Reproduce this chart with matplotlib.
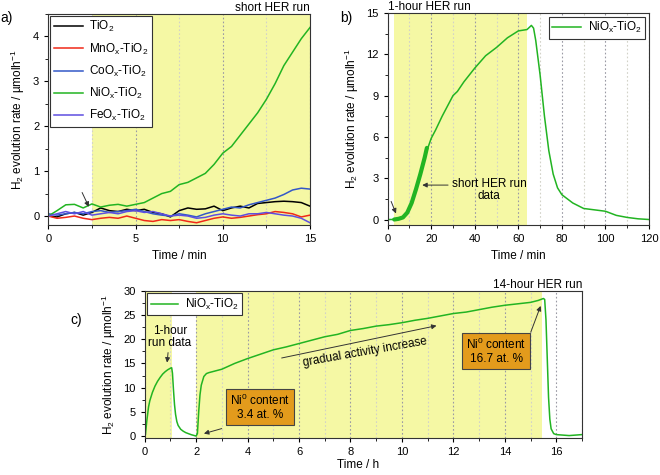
import numpy as np
import matplotlib.pyplot as plt
from matplotlib.ticker import MultipleLocator

plt.rcParams["font.family"] = ["Liberation Sans", "DejaVu Sans"]
plt.rcParams["mathtext.default"] = "regular"
plt.rcParams["font.size"] = 8

# ---------------- data ----------------
# panel a: short HER run (min)
t_a = np.arange(0, 15.01, 0.5)
tio2 = [0.0, -0.02, 0.05, 0.08, 0.02, 0.08, 0.18, 0.12, 0.10, 0.15, 0.12, 0.15, 0.08, 0.05, -0.02, 0.12,
        0.18, 0.15, 0.16, 0.22, 0.12, 0.18, 0.22, 0.18, 0.28, 0.30, 0.32, 0.33, 0.32, 0.30, 0.22]
mnox = [0.0, -0.05, -0.03, 0.0, -0.05, -0.08, -0.05, -0.03, -0.05, 0.0, -0.05, -0.10, -0.12, -0.08, -0.10, -0.08,
        -0.12, -0.15, -0.10, -0.05, -0.02, -0.05, -0.03, 0.0, 0.03, 0.05, 0.10, 0.08, 0.05, -0.02, 0.02]
coox = [0.05, 0.02, 0.05, 0.08, 0.05, 0.10, 0.12, 0.08, 0.10, 0.12, 0.15, 0.10, 0.05, 0.02, 0.0, 0.05,
        0.02, -0.02, 0.05, 0.10, 0.15, 0.20, 0.18, 0.25, 0.30, 0.35, 0.40, 0.48, 0.58, 0.62, 0.60]
niox = [0.0, 0.12, 0.25, 0.26, 0.18, 0.27, 0.20, 0.24, 0.26, 0.22, 0.26, 0.30, 0.40, 0.50, 0.55, 0.70,
        0.75, 0.85, 0.95, 1.15, 1.40, 1.55, 1.80, 2.05, 2.30, 2.60, 2.95, 3.35, 3.65, 3.95, 4.20]
feox = [0.0, 0.05, 0.10, 0.05, 0.10, 0.02, 0.05, 0.08, 0.05, 0.10, 0.12, 0.08, 0.10, 0.05, 0.0, 0.02,
        0.0, -0.05, -0.03, 0.02, 0.05, 0.02, 0.0, 0.05, 0.05, 0.08, 0.05, 0.02, 0.0, -0.05, -0.15]
series_a = [("TiO$_2$", tio2, "black"),
            ("MnO$_x$-TiO$_2$", mnox, "#f02818"),
            ("CoO$_x$-TiO$_2$", coox, "#3358c8"),
            ("NiO$_x$-TiO$_2$", niox, "#22b422"),
            ("FeO$_x$-TiO$_2$", feox, "#5e4ee0")]

# panel b: 1-hour HER run (min)
t_b = [0, 2, 4, 6, 8, 10, 12, 14, 16, 18, 20, 22, 25, 28, 30, 32, 35, 40, 45, 50, 55, 60, 64, 66, 67,
       68, 70, 72, 74, 76, 78, 80, 85, 90, 95, 100, 105, 110, 115, 120]
r_b = [0.0, 0.0, 0.05, 0.1, 0.3, 0.8, 1.8, 2.8, 3.9, 5.0, 5.9, 6.5, 7.5, 8.4, 9.0, 9.3, 10.0, 11.0, 11.9,
       12.5, 13.2, 13.7, 13.8, 14.1, 13.9, 13.0, 10.5, 7.5, 5.0, 3.3, 2.3, 1.8, 1.2, 0.8, 0.7, 0.6, 0.3,
       0.15, 0.05, 0.0]
t_short_b = [3, 5, 7, 9, 11, 13, 15, 17, 18]
r_short_b = [0.0, 0.05, 0.15, 0.5, 1.2, 2.2, 3.3, 4.5, 5.2]

# panel c: 1-hour run then 14-hour HER run (h)
t_c1 = [0, 0.03, 0.08, 0.15, 0.2, 0.3, 0.4, 0.5, 0.6, 0.7, 0.8, 0.9, 1.0, 1.05, 1.08, 1.12, 1.16, 1.2,
        1.25, 1.3, 1.4, 1.5, 1.6, 1.7, 1.8, 1.9, 2.0]
r_c1 = [0.0, 0.3, 3.0, 6.0, 7.3, 9.0, 10.3, 11.3, 12.1, 12.8, 13.3, 13.7, 14.0, 14.1, 13.0, 9.5, 6.5, 4.5,
        3.0, 2.2, 1.4, 1.0, 0.7, 0.5, 0.3, 0.15, 0.0]
t_c = [2.05, 2.1, 2.15, 2.2, 2.3, 2.4, 2.5, 3.0, 3.5, 4.0, 4.5, 5.0, 5.5, 6.0, 6.5, 7.0, 7.5, 8.0, 8.5,
       9.0, 9.5, 10.0, 10.5, 11.0, 11.5, 12.0, 12.5, 13.0, 13.5, 14.0, 14.5, 15.0, 15.3, 15.5, 15.55,
       15.6, 15.65, 15.7, 15.75, 15.8, 15.9, 16.0, 16.5, 17.0]
r_c = [0.5, 5.0, 8.5, 10.5, 12.3, 12.9, 13.1, 13.8, 15.0, 16.0, 16.9, 17.8, 18.4, 19.1, 19.8, 20.5, 21.0,
       21.8, 22.2, 22.7, 23.0, 23.4, 23.9, 24.3, 24.8, 25.3, 25.6, 26.1, 26.6, 27.0, 27.3, 27.6, 28.0,
       28.4, 28.2, 24.0, 16.0, 8.0, 3.5, 1.5, 0.5, 0.3, 0.1, 0.3]

YEL = "#f5f8a4"
GRN = "#22b422"
BOX = "#e39b1c"
YLAB = "H$_2$ evolution rate / µmolh$^{-1}$"


def style(ax):
    ax.set_axisbelow(True)
    ax.grid(True, axis="x", which="major", ls=(0, (1.5, 2.0)), color="#9a9aa4", lw=0.8)
    ax.grid(True, axis="x", which="minor", ls=(0, (1.5, 2.0)), color="#d2d2c8", lw=0.8)
    ax.tick_params(which="both", direction="out", labelsize=8, length=3)
    ax.tick_params(which="minor", length=2)
    for s in ax.spines.values():
        s.set_color("#333333")
        s.set_linewidth(0.8)


fig = plt.figure(figsize=(6.6, 4.75), dpi=100)

# ---------------- panel a ----------------
ax = fig.add_axes([0.0732, 0.5263, 0.3965, 0.4442])
ax.axvspan(2.5, 15, color=YEL, zorder=0, lw=0)
for lab, vals, col in series_a:
    ax.plot(t_a, vals, color=col, lw=1.1, label=lab)
ax.set_xlim(0, 15)
ax.set_ylim(-0.2, 4.5)
ax.xaxis.set_major_locator(MultipleLocator(5))
ax.xaxis.set_minor_locator(MultipleLocator(2.5))
ax.yaxis.set_major_locator(MultipleLocator(1))
ax.yaxis.set_minor_locator(MultipleLocator(0.5))
style(ax)
ax.set_xlabel("Time / min", fontsize=8.5)
ax.set_ylabel(YLAB, fontsize=8.5, labelpad=4)
ax.set_title("short HER run", loc="right", fontsize=8.5, pad=2)
leg = ax.legend(loc="upper left", fontsize=8.5, frameon=True, fancybox=False, framealpha=1,
                edgecolor="#333333", handlelength=2.5, labelspacing=0.6, borderaxespad=0.15,
                borderpad=0.3, handletextpad=0.5)
leg.get_frame().set_linewidth(0.8)
ax.annotate("", xy=(2.39, 0.15), xytext=(1.87, 0.58),
            arrowprops=dict(arrowstyle="-|>", color="#333333", lw=0.7, mutation_scale=7))

# ---------------- panel b ----------------
ax = fig.add_axes([0.5874, 0.5263, 0.3959, 0.4463])
ax.axvspan(3, 64, color=YEL, zorder=0, lw=0)
ax.plot(t_b, r_b, color=GRN, lw=1.1, label="NiO$_x$-TiO$_2$")
ax.plot(t_short_b, r_short_b, color=GRN, lw=3.0, solid_capstyle="round")
ax.set_xlim(0, 120)
ax.set_ylim(-0.4, 15)
ax.xaxis.set_major_locator(MultipleLocator(20))
ax.xaxis.set_minor_locator(MultipleLocator(10))
ax.yaxis.set_major_locator(MultipleLocator(3))
ax.yaxis.set_minor_locator(MultipleLocator(1.5))
style(ax)
ax.set_xlabel("Time / min", fontsize=8.5)
ax.set_ylabel(YLAB, fontsize=8.5, labelpad=4)
ax.set_title("1-hour HER run", loc="left", fontsize=8.5, pad=2)
leg = ax.legend(loc="upper right", fontsize=8.5, frameon=True, fancybox=False, framealpha=1,
                edgecolor="#333333", handlelength=2.4, borderaxespad=0.3, borderpad=0.3,
                handletextpad=0.6)
leg.get_frame().set_linewidth(0.8)
ax.annotate("", xy=(4.3, 0.25), xytext=(1.1, 1.5),
            arrowprops=dict(arrowstyle="-|>", color="#333333", lw=0.7, mutation_scale=7))
ax.annotate("", xy=(14.6, 2.5), xytext=(29, 2.5),
            arrowprops=dict(arrowstyle="-|>", color="#333333", lw=0.7, mutation_scale=7))
ax.text(46.5, 2.15, "short HER run\ndata", ha="center", va="center", fontsize=8.5, linespacing=1.0)

# ---------------- panel c ----------------
ax = fig.add_axes([0.2192, 0.0779, 0.6626, 0.310])
ax.axvspan(0, 1.05, color=YEL, zorder=0, lw=0)
ax.axvspan(2.0, 15.45, color=YEL, zorder=0, lw=0)
t_all = np.concatenate([t_c1, t_c])
r_all = np.concatenate([r_c1, r_c])
ax.plot(t_all, r_all, color=GRN, lw=1.1, label="NiO$_x$-TiO$_2$")
ax.set_xlim(0, 17)
ax.set_ylim(-0.4, 30)
ax.xaxis.set_major_locator(MultipleLocator(2))
ax.xaxis.set_minor_locator(MultipleLocator(1))
ax.yaxis.set_major_locator(MultipleLocator(5))
ax.yaxis.set_minor_locator(MultipleLocator(2.5))
style(ax)
ax.set_xlabel("Time / h", fontsize=8.5)
ax.xaxis.set_label_coords(0.487, -0.14)
ax.set_ylabel(YLAB, fontsize=8.5, labelpad=4)
ax.set_title("14-hour HER run", loc="right", fontsize=8.5, pad=2)
leg = ax.legend(loc="upper left", fontsize=8.5, frameon=True, fancybox=False, framealpha=1,
                edgecolor="#333333", handlelength=2.3, borderaxespad=0.2, borderpad=0.3,
                handletextpad=0.6)
leg.get_frame().set_linewidth(0.8)

arrow = dict(arrowstyle="-|>", color="#333333", lw=0.7, mutation_scale=7)
ax.text(0.98, 20.5, "1-hour\nrun data", ha="center", va="center", fontsize=8.5, linespacing=1.0)
ax.annotate("", xy=(0.86, 14.6), xytext=(0.92, 17.8), arrowprops=arrow)

bbox = dict(boxstyle="square,pad=0.35", fc=BOX, ec="#444444", lw=0.8)
ax.text(4.47, 6.05, "Ni$^0$ content\n3.4 at. %", ha="center", va="center", fontsize=8.5,
        linespacing=1.1, bbox=bbox)
ax.annotate("", xy=(2.2, 0.35), xytext=(3.1, 1.7), arrowprops=arrow)
ax.text(13.66, 17.5, "Ni$^0$ content\n16.7 at. %", ha="center", va="center", fontsize=8.5,
        linespacing=1.1, bbox=bbox)
ax.annotate("", xy=(15.43, 27.4), xytext=(14.97, 20.9), arrowprops=arrow)

ax.annotate("", xy=(11.45, 22.9), xytext=(5.22, 16.0), arrowprops=arrow)
ax.text(8.55, 17.3, "gradual activity increase", ha="center", va="center", fontsize=8.5,
        rotation=10, rotation_mode="anchor")

# panel labels
fig.text(0.0, 0.962, "a)", fontsize=10, va="center")
fig.text(0.515, 0.962, "b)", fontsize=10, va="center")
fig.text(0.107, 0.327, "c)", fontsize=10, va="center")

fig.savefig("out.png", dpi=100)
